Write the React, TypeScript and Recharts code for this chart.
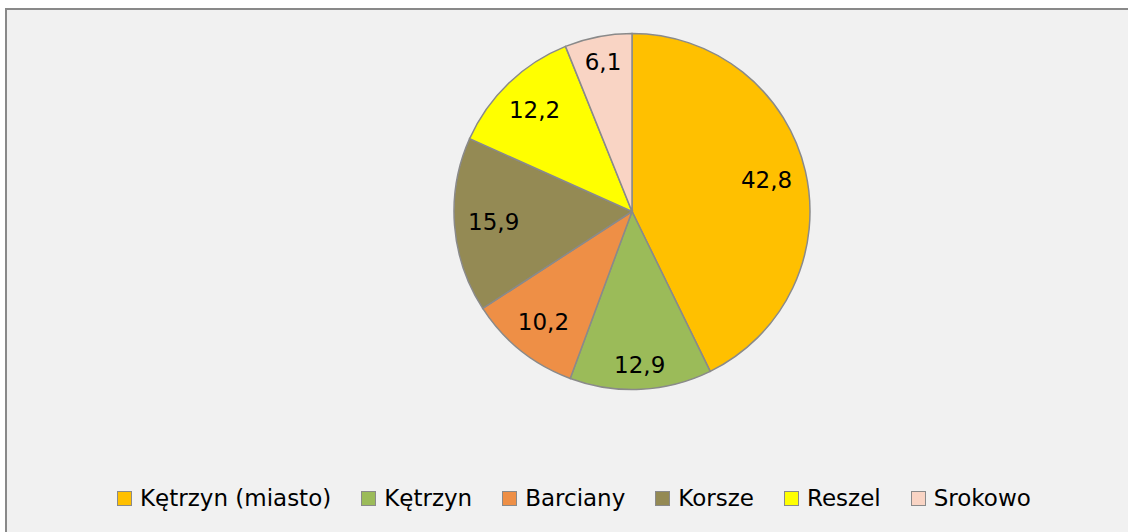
import { PieChart, Pie, Cell, Legend } from 'recharts';

const gminy = ['Kętrzyn (miasto)', 'Kętrzyn', 'Barciany', 'Korsze', 'Reszel', 'Srokowo'];
const udzial = [42.8, 12.9, 10.2, 15.9, 12.2, 6.1];
const kolory = ['#FFC000', '#9BBB59', '#EE8F46', '#948A54', '#FFFF00', '#F9D4C4'];

const data = gminy.map((name, i) => ({ name, value: udzial[i] }));

const FONT = '"DejaVu Sans", Verdana, sans-serif';
const RAD = Math.PI / 180;

// label placed "inside end": text box pushed out until its far corner nears the edge
function renderLabel(props: any) {
    const { cx, cy, midAngle, outerRadius, value } = props;
    const text = String(value).replace('.', ',');
    const digits = text.replace(',', '').length;
    const w = 23 * (0.636 * digits + 0.318);
    const h = 17;
    const c = Math.abs(Math.cos(-midAngle * RAD));
    const s = Math.abs(Math.sin(-midAngle * RAD));
    const L = outerRadius - 13;
    const b = c * w / 2 + s * h / 2;
    const k = (w / 2) * (w / 2) + (h / 2) * (h / 2) - L * L;
    const d = -b + Math.sqrt(b * b - k);
    const x = cx + d * Math.cos(-midAngle * RAD);
    const y = cy + d * Math.sin(-midAngle * RAD);
    return (
        <text x={x} y={y} textAnchor="middle" dominantBaseline="central" fill="#000" fontSize={23} fontFamily={FONT}>
            {text}
        </text>
    );
}

function LegendContent() {
    return (
        <div style={{ display: 'flex', alignItems: 'center', fontFamily: FONT, fontSize: 23, color: '#000' }}>
            {gminy.map((g, i) => (
                <div key={g} style={{ display: 'flex', alignItems: 'center', marginRight: 30 }}>
                    <span style={{ width: 13, height: 13, background: kolory[i], border: '1px solid #8a8a8a', marginRight: 8, display: 'inline-block' }} />
                    <span style={{ whiteSpace: 'nowrap' }}>{g}</span>
                </div>
            ))}
        </div>
    );
}

export default function App() {
    return (
        <div style={{ position: 'absolute', left: 0, top: 0, width: 1128, height: 532, overflow: 'hidden', background: '#fff' }}>
            <div style={{ position: 'absolute', left: 5, top: 8, width: 1140, height: 540, background: '#f1f1f1', border: '2px solid #898989' }} />
            <div style={{ position: 'absolute', left: 0, top: 0 }}>
                <PieChart width={1128} height={532} margin={{ top: 0, right: 0, bottom: 0, left: 0 }}>
                    <Pie
                        data={data}
                        dataKey="value"
                        nameKey="name"
                        cx={632}
                        cy={211.5}
                        outerRadius={178}
                        startAngle={90}
                        endAngle={-270}
                        stroke="#8a8a8a"
                        strokeWidth={1.5}
                        label={renderLabel}
                        labelLine={false}
                        isAnimationActive={false}
                    >
                        {data.map((d, i) => (
                            <Cell key={d.name} fill={kolory[i]} />
                        ))}
                    </Pie>
                    <Legend content={<LegendContent />} wrapperStyle={{ left: 117, top: 485, width: 'auto', bottom: 'auto' }} />
                </PieChart>
            </div>
        </div>
    );
}
